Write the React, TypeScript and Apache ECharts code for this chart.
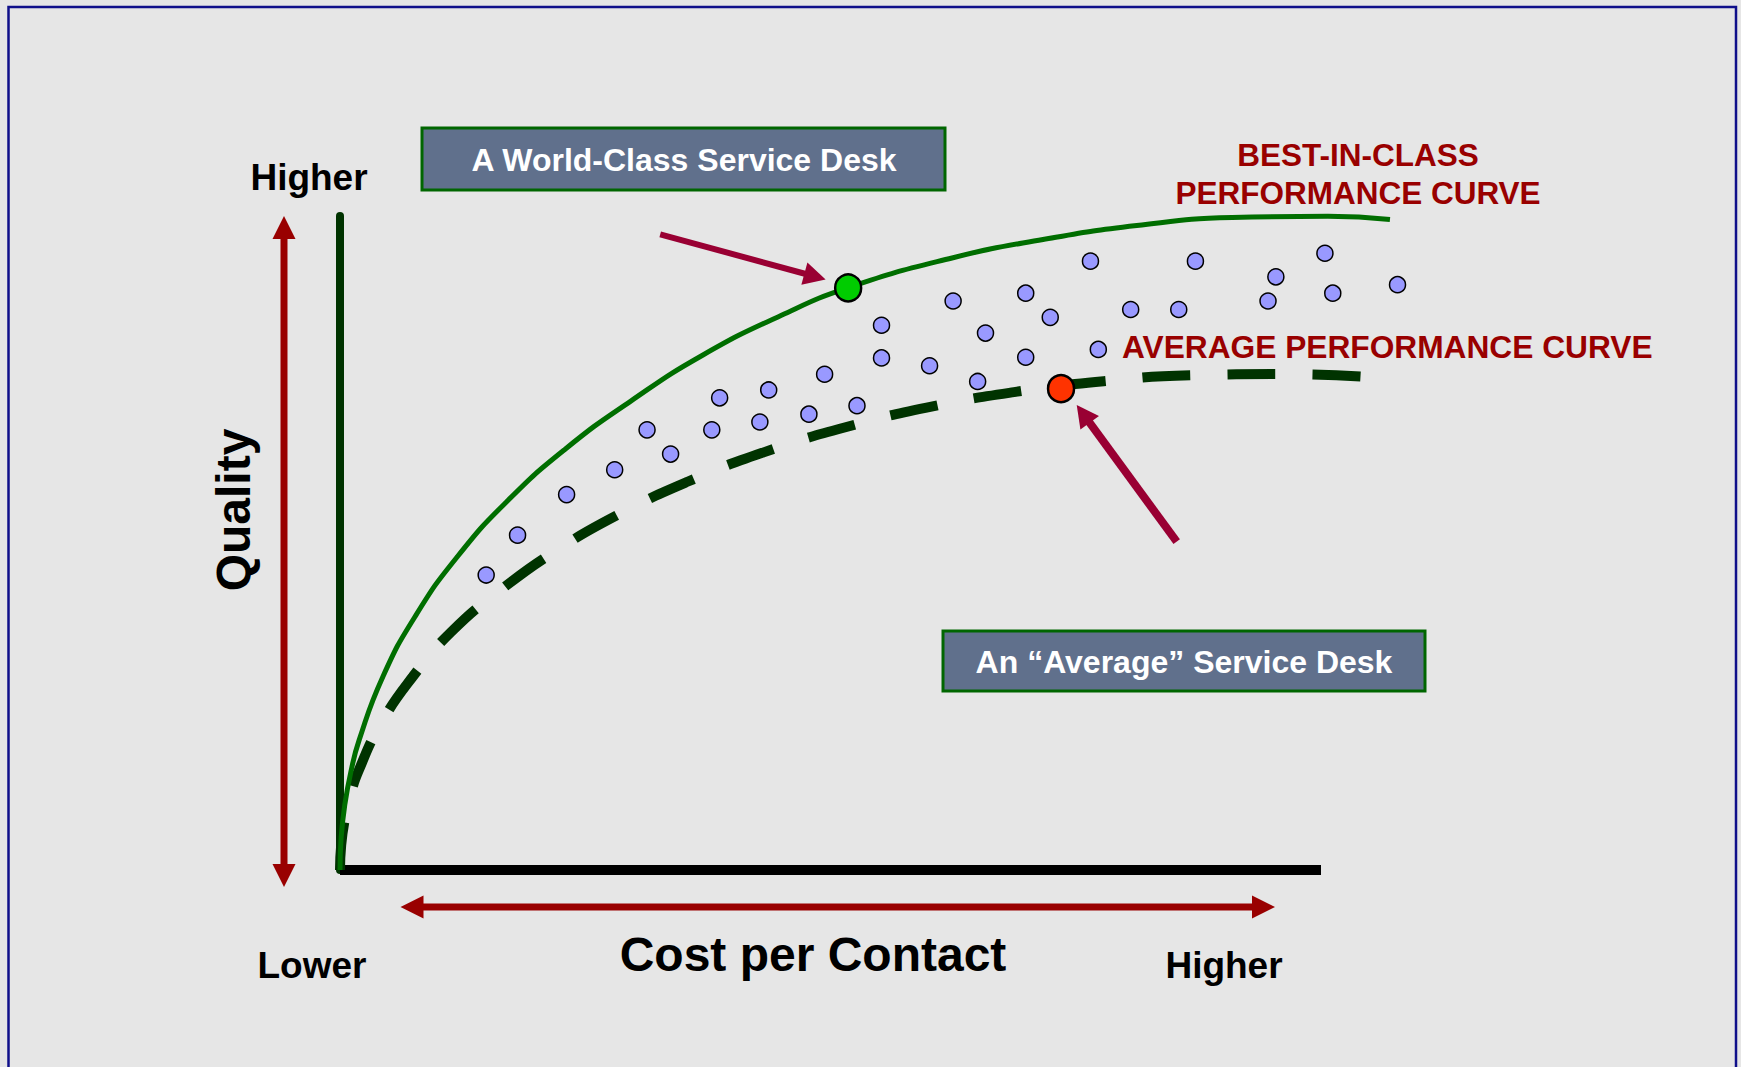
import React, { useEffect, useRef } from "react";
import * as echarts from "echarts";

// ---- Data (x: cost per contact, y: quality; both on a relative scale, axis 0–100) ----
const bestInClassCurve: number[][] = [
  [0, 0], [0.12, 5.0], [0.49, 9.98], [1.1, 14.94], [1.95, 19.86], [4.37, 29.56],
  [7.73, 38.94], [11.98, 47.94], [17.09, 56.47], [23.01, 64.42], [29.68, 71.74],
  [37.0, 78.75], [44.95, 84.79], [51.82, 89.05], [62.39, 93.58], [71.66, 96.41],
  [81.22, 98.55], [90.94, 99.76], [100.71, 99.95], [107.03, 99.46],
];

const averageCurve: number[][] = [
  [0, 0], [0.12, 3.79], [0.47, 7.57], [1.05, 11.33], [1.87, 15.08], [4.19, 22.42],
  [7.4, 29.53], [11.3, 36.36], [16.38, 42.83], [22.05, 48.85], [28.44, 54.4],
  [35.48, 59.4], [43.11, 63.82], [51.24, 67.58], [59.8, 70.69], [68.7, 73.07],
  [77.84, 74.74], [87.15, 75.66], [96.53, 75.83], [104.89, 75.38],
];

const costAxisBaseline: number[][] = [[0, 0], [100, 0]];

const serviceDesks: number[][] = [
  [14.9, 45.1], [18.1, 51.2], [23.1, 57.4], [28.0, 61.2], [31.3, 67.3], [33.7, 63.6],
  [37.9, 67.3], [38.7, 72.2], [42.8, 68.5], [43.7, 73.4], [47.8, 69.7], [49.4, 75.8],
  [52.7, 71.0], [55.2, 83.3], [55.2, 78.3], [60.1, 77.1], [62.5, 87.0], [65.0, 74.7],
  [65.8, 82.1], [69.9, 88.2], [69.9, 78.4], [72.4, 84.5], [76.5, 93.1], [77.3, 79.6],
  [80.6, 85.7], [85.5, 85.7], [87.2, 93.1], [94.6, 87.0], [95.4, 90.7], [100.4, 94.3],
  [101.2, 88.2], [107.8, 89.5],
];

const worldClassDesk: number[] = [51.8, 89.0];
const averageDesk: number[] = [73.5, 73.6];

const pointerArrows: { from: number[]; to: number[]; width: number }[] = [
  { from: [32.64, 97.2], to: [48.42, 90.75], width: 6 },
  { from: [85.29, 50.2], to: [75.76, 69.74], width: 8 },
];

const FONT = '"Liberation Sans", Arial, Helvetica, sans-serif';
const DARK_RED = "#990000";

function txt(
  text: string,
  x: number,
  y: number,
  size: number,
  fill: string,
  align: string = "center",
  rotation: number = 0
) {
  return {
    type: "text",
    x,
    y,
    rotation,
    z: 100,
    silent: true,
    style: {
      text,
      fill,
      fontSize: size,
      fontWeight: "bold",
      fontFamily: FONT,
      align,
      verticalAlign: "middle",
    },
  };
}

export default function App() {
  const ref = useRef<HTMLDivElement>(null);

  useEffect(() => {
    if (!ref.current) return;
    const chart = echarts.init(ref.current, null, { renderer: "svg" });

    const option: any = {
      animation: false,
      backgroundColor: "#e6e6e6",
      grid: { left: 340, top: 216, width: 1079.1, height: 654 },
      xAxis: {
        type: "value",
        min: 0,
        max: 110,
        axisLine: { show: false },
        axisTick: { show: false },
        axisLabel: { show: false },
        splitLine: { show: false },
      },
      yAxis: {
        type: "value",
        min: 0,
        max: 100,
        axisLine: { show: true, onZero: false, lineStyle: { color: "#003300", width: 8 } },
        axisTick: { show: false },
        axisLabel: { show: false },
        splitLine: { show: false },
      },
      series: [
        {
          name: "Cost axis",
          type: "line",
          data: costAxisBaseline,
          symbol: "none",
          silent: true,
          clip: false,
          z: 1,
          lineStyle: { color: "#000000", width: 10, cap: "butt" },
        },
        {
          name: "Average Performance Curve",
          type: "line",
          data: averageCurve,
          smooth: 0.5,
          symbol: "none",
          clip: false,
          silent: true,
          z: 2,
          lineStyle: { color: "#003300", width: 10, type: [48, 37], cap: "butt" },
        },
        {
          name: "Best-in-Class Performance Curve",
          type: "line",
          data: bestInClassCurve,
          smooth: 0.5,
          symbol: "none",
          clip: false,
          silent: true,
          z: 3,
          lineStyle: { color: "#006e00", width: 5 },
        },
        {
          name: "Service Desks",
          type: "scatter",
          data: serviceDesks,
          symbol: "circle",
          symbolSize: 16,
          clip: false,
          silent: true,
          z: 4,
          itemStyle: { color: "#9999ff", borderColor: "#000000", borderWidth: 1.5, opacity: 1 },
        },
        {
          name: "Highlighted Desks",
          type: "scatter",
          data: [
            { value: worldClassDesk, itemStyle: { color: "#00cc00" } },
            { value: averageDesk, itemStyle: { color: "#ff3300" } },
          ],
          symbol: "circle",
          symbolSize: [26, 27],
          clip: false,
          silent: true,
          z: 5,
          itemStyle: { borderColor: "#000000", borderWidth: 2.5, opacity: 1 },
          markLine: {
            silent: true,
            animation: false,
            symbol: ["none", "triangle"],
            symbolSize: [23, 22],
            label: { show: false },
            emphasis: { disabled: true },
            lineStyle: { color: "#990033", type: "solid", opacity: 1 },
            data: pointerArrows.map((a) => [
              { coord: a.from, lineStyle: { width: a.width, color: "#990033", type: "solid" } },
              { coord: a.to },
            ]),
          },
        },
      ],
      graphic: [
        // page border
        {
          type: "rect",
          silent: true,
          z: 1,
          shape: { x: 8.5, y: 7, width: 1727.5, height: 1090 },
          style: { fill: "none", stroke: "#10108a", lineWidth: 2.5 },
        },
        // vertical red double arrow (Quality)
        {
          type: "line",
          silent: true,
          z: 50,
          shape: { x1: 284, y1: 236, x2: 284, y2: 867 },
          style: { stroke: DARK_RED, lineWidth: 7 },
        },
        {
          type: "polygon",
          silent: true,
          z: 50,
          shape: { points: [[284, 216], [272.5, 239], [295.5, 239]] },
          style: { fill: DARK_RED },
        },
        {
          type: "polygon",
          silent: true,
          z: 50,
          shape: { points: [[284, 887], [272.5, 864], [295.5, 864]] },
          style: { fill: DARK_RED },
        },
        // horizontal red double arrow (Cost)
        {
          type: "line",
          silent: true,
          z: 50,
          shape: { x1: 420, y1: 907, x2: 1256, y2: 907 },
          style: { stroke: DARK_RED, lineWidth: 7 },
        },
        {
          type: "polygon",
          silent: true,
          z: 50,
          shape: { points: [[400.5, 907], [423.5, 895.5], [423.5, 918.5]] },
          style: { fill: DARK_RED },
        },
        {
          type: "polygon",
          silent: true,
          z: 50,
          shape: { points: [[1275, 907], [1252, 895.5], [1252, 918.5]] },
          style: { fill: DARK_RED },
        },
        // callout boxes
        {
          type: "rect",
          silent: true,
          z: 60,
          shape: { x: 422, y: 128, width: 523, height: 62 },
          style: { fill: "#60708c", stroke: "#006600", lineWidth: 3 },
        },
        {
          type: "rect",
          silent: true,
          z: 60,
          shape: { x: 943, y: 631, width: 482, height: 60 },
          style: { fill: "#60708c", stroke: "#006600", lineWidth: 3 },
        },
        txt("A World-Class Service Desk", 684, 159.5, 32, "#ffffff"),
        txt("An \u201CAverage\u201D Service Desk", 1184, 661.5, 32, "#ffffff"),
        // curve labels
        txt("BEST-IN-CLASS", 1358, 154.5, 31.5, DARK_RED),
        txt("PERFORMANCE CURVE", 1358, 192.5, 31.5, DARK_RED),
        txt("AVERAGE PERFORMANCE CURVE", 1122, 346.5, 31.7, DARK_RED, "left"),
        // axis texts
        txt("Higher", 309, 177, 37, "#000000"),
        txt("Lower", 312, 965, 37, "#000000"),
        txt("Higher", 1224, 965, 37, "#000000"),
        txt("Cost per Contact", 813, 954, 48, "#000000"),
        txt("Quality", 233, 510, 48, "#000000", "center", Math.PI / 2),
      ],
    };

    chart.setOption(option);
    return () => chart.dispose();
  }, []);

  return (
    <div
      ref={ref}
      style={{ position: "fixed", left: 0, top: 0, width: 1741, height: 1067 }}
    />
  );
}
